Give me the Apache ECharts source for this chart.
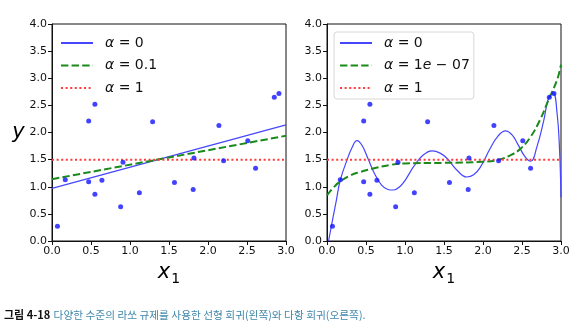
<!DOCTYPE html>
<html><head><meta charset="utf-8">
<script src="https://cdn.jsdelivr.net/npm/echarts@6/dist/echarts.min.js"></script>
<style>html,body{margin:0;padding:0;background:#fff}#c{width:583px;height:336px}</style>
</head><body><div id="c"></div>
<script>
// data points (same data in both panels)
var pointsX = [0.07,0.17,0.47,0.47,0.55,0.55,0.64,0.88,0.91,1.12,1.29,1.57,1.81,1.82,2.14,2.20,2.51,2.61,2.85,2.91];
var pointsY = [0.27,1.13,1.09,2.21,0.86,2.52,1.12,0.63,1.45,0.89,2.20,1.08,0.95,1.53,2.13,1.48,1.85,1.34,2.65,2.72];
// left panel: linear models
var linX = [0, 3];
var linA0 = [0.97, 2.14];
var linA01 = [1.14, 1.94];
var linA1 = [1.5, 1.5];
// right panel: polynomial models
var polyA0X = [0.02,0.07,0.12,0.17,0.256,0.32,0.385,0.45,0.525,0.61,0.70,0.78,0.85,0.94,1.02,1.11,1.23,1.35,1.45,1.54,1.67,1.79,1.88,1.97,2.09,2.19,2.29,2.37,2.44,2.54,2.61,2.69,2.78,2.84,2.90,2.95,2.98,3.00];
var polyA0Y = [0.00,0.38,0.75,1.12,1.49,1.72,1.85,1.76,1.52,1.24,1.03,0.95,0.94,1.01,1.16,1.37,1.58,1.66,1.62,1.52,1.30,1.18,1.22,1.37,1.70,1.93,2.03,1.96,1.80,1.55,1.47,1.73,2.23,2.63,2.72,2.35,1.73,0.80];
var polyA1e7X = [0.00,0.08,0.17,0.30,0.42,0.63,0.80,1.00,1.50,2.00,2.18,2.35,2.48,2.61,2.73,2.84,2.95,3.00];
var polyA1e7Y = [0.84,0.98,1.10,1.21,1.27,1.35,1.40,1.43,1.44,1.46,1.49,1.58,1.70,1.92,2.23,2.60,2.97,3.25];
var polyA1X = [0, 3];
var polyA1Y = [1.5, 1.5];
var xTicks = ['0.0','0.5','1.0','1.5','2.0','2.5','3.0'];
var yTicks = ['0.0','0.5','1.0','1.5','2.0','2.5','3.0','3.5','4.0'];
var legendLeft = ['α = 0', 'α = 0.1', 'α = 1'];
var legendRight = ['α = 0', 'α = 1e − 07', 'α = 1'];
var caption = ['그림 4-18', '다양한 수준의 라쏘 규제를 사용한 선형 회귀(왼쪽)와 다항 회귀(오른쪽).'];

function zip(a, b) { return a.map(function (v, i) { return [v, b[i]]; }); }
var F = 'DejaVu Sans';
var BLUE = '#4646ff', GREEN = '#1a8a1a', RED = '#ff3b3b', DOT = '#1414ff';

function xAx(idx) {
  return {
    type: 'value', gridIndex: idx, min: 0, max: 3, interval: 0.5,
    name: '{x|x}{s|1}', nameLocation: 'middle', nameGap: 19,
    nameTextStyle: { rich: {
      x: { fontSize: 21, fontStyle: 'italic', fontFamily: F, color: '#000' },
      s: { fontSize: 14, fontFamily: F, color: '#000', padding: [12, 0, 0, 1] } } },
    axisLine: { show: true, lineStyle: { color: '#111', width: 1 } },
    axisTick: { show: true, length: 4, lineStyle: { color: '#111' } },
    axisLabel: { fontSize: 11, fontFamily: F, color: '#111', margin: 5,
      formatter: function (v) { return xTicks[Math.round(v / 0.5)]; } },
    splitLine: { show: false }
  };
}
function yAx(idx, named) {
  return {
    type: 'value', gridIndex: idx, min: 0, max: 4, interval: 0.5,
    name: named ? 'y' : '', nameLocation: 'middle', nameGap: 23, nameRotate: 0,
    nameTextStyle: { fontSize: 21, fontStyle: 'italic', fontFamily: F, color: '#000', padding: [0, 0, 24, 0] },
    axisLine: { show: true, lineStyle: { color: '#111', width: 1 } },
    axisTick: { show: true, length: 4, lineStyle: { color: '#111' } },
    axisLabel: { fontSize: 11, fontFamily: F, color: '#111', margin: 5,
      formatter: function (v) { return yTicks[Math.round(v / 0.5)]; } },
    splitLine: { show: false }
  };
}
function fmt(name) {
  return name.replace(/α/g, '{i|α}').replace('1e', '1{i|e}');
}
var legRich = { i: { fontStyle: 'italic', fontSize: 14, fontFamily: F, color: '#111' } };
var noSym = { color: 'rgba(0,0,0,0)', borderColor: 'rgba(0,0,0,0)', borderWidth: 0 };

var chart = echarts.init(document.getElementById('c'), null, { renderer: 'canvas' });
chart.setOption({
  animation: false,
  backgroundColor: '#fff',
  grid: [
    { left: 52, top: 24, width: 234, height: 217, show: true, borderColor: '#111', borderWidth: 1 },
    { left: 327, top: 24, width: 234, height: 217, show: true, borderColor: '#111', borderWidth: 1 }
  ],
  xAxis: [xAx(0), xAx(1)],
  yAxis: [yAx(0, true), yAx(1, false)],
  legend: [
    { data: legendLeft, orient: 'vertical', left: 58, top: 34,
      itemWidth: 32, itemHeight: 14, itemGap: 8.5, padding: 2, itemStyle: noSym,
      formatter: fmt, textStyle: { fontSize: 14, fontFamily: F, color: '#111', padding: [0, 0, 0, 7], rich: legRich } },
    { data: legendRight, orient: 'vertical', left: 334, top: 32,
      itemWidth: 32, itemHeight: 14, itemGap: 8.5, padding: [4, 4, 4, 5], itemStyle: noSym,
      borderColor: '#d8d8d8', borderWidth: 1, borderRadius: 3, backgroundColor: 'rgba(255,255,255,0.8)',
      formatter: fmt, textStyle: { fontSize: 14, fontFamily: F, color: '#111', padding: [0, 0, 0, 7], rich: legRich } }
  ],
  graphic: [
    { type: 'text', left: 4, top: 309, style: {
      text: '{b|' + caption[0] + '} {t|' + caption[1] + '}',
      rich: {
        b: { fontSize: 11, fontWeight: 'bold', fontFamily: 'Noto Sans CJK KR', fill: '#111' },
        t: { fontSize: 10.7, fontFamily: 'Noto Sans CJK KR', fill: '#3f86a8' } } } }
  ],
  series: [
    { name: legendLeft[0], type: 'line', xAxisIndex: 0, yAxisIndex: 0, data: zip(linX, linA0), symbol: 'none',
      lineStyle: { color: BLUE, width: 1.2 }, itemStyle: { color: BLUE }, z: 3 },
    { name: legendLeft[1], type: 'line', xAxisIndex: 0, yAxisIndex: 0, data: zip(linX, linA01), symbol: 'none',
      lineStyle: { color: GREEN, width: 2, type: [7.4, 3.2] }, itemStyle: { color: GREEN }, z: 3 },
    { name: legendLeft[2], type: 'line', xAxisIndex: 0, yAxisIndex: 0, data: zip(linX, linA1), symbol: 'none',
      lineStyle: { color: RED, width: 2, type: [2, 2.6] }, itemStyle: { color: RED }, z: 3 },
    { name: 'data', type: 'scatter', xAxisIndex: 0, yAxisIndex: 0, data: zip(pointsX, pointsY), symbolSize: 5,
      itemStyle: { color: DOT }, z: 4 },
    { name: legendRight[0], type: 'line', xAxisIndex: 1, yAxisIndex: 1, data: zip(polyA0X, polyA0Y), symbol: 'none',
      smooth: 0.45,
      lineStyle: { color: BLUE, width: 1.2 }, itemStyle: { color: BLUE }, z: 3 },
    { name: legendRight[1], type: 'line', xAxisIndex: 1, yAxisIndex: 1, data: zip(polyA1e7X, polyA1e7Y), symbol: 'none',
      smooth: 0.45,
      lineStyle: { color: GREEN, width: 2, type: [7.4, 3.2] }, itemStyle: { color: GREEN }, z: 3 },
    { name: legendRight[2], type: 'line', xAxisIndex: 1, yAxisIndex: 1, data: zip(polyA1X, polyA1Y), symbol: 'none',
      lineStyle: { color: RED, width: 2, type: [2, 2.6] }, itemStyle: { color: RED }, z: 3 },
    { name: 'data2', type: 'scatter', xAxisIndex: 1, yAxisIndex: 1, data: zip(pointsX, pointsY), symbolSize: 5,
      itemStyle: { color: DOT }, z: 4 }
  ]
});
</script></body></html>
